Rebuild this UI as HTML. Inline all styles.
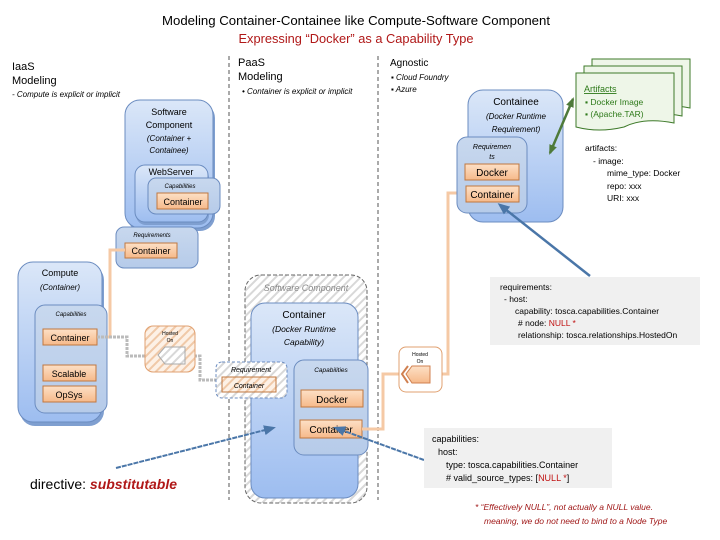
<!DOCTYPE html>
<html><head><meta charset="utf-8"><style>
html,body{margin:0;padding:0;background:#fff}
svg{display:block}
text{font-family:"Liberation Sans",sans-serif}
</style></head><body>
<svg width="720" height="540" viewBox="0 0 720 540" xmlns="http://www.w3.org/2000/svg">
<defs>
<linearGradient id="bg" x1="0" y1="0" x2="0" y2="1"><stop offset="0" stop-color="#dbe7f8"/><stop offset="1" stop-color="#9dbdf0"/></linearGradient>
<linearGradient id="bg2" x1="0" y1="0" x2="0" y2="1"><stop offset="0" stop-color="#c8d8ee"/><stop offset="1" stop-color="#b6cbe9"/></linearGradient>
<linearGradient id="og" x1="0" y1="0" x2="0" y2="1"><stop offset="0" stop-color="#fde0c6"/><stop offset="1" stop-color="#f6b98a"/></linearGradient>
<pattern id="hatch" width="6" height="6" patternUnits="userSpaceOnUse" patternTransform="rotate(45)"><rect width="6" height="6" fill="#fff"/><rect width="2" height="6" fill="#d8d8d8"/></pattern>
<pattern id="hatcho" width="6" height="6" patternUnits="userSpaceOnUse" patternTransform="rotate(45)"><rect width="6" height="6" fill="#fdf1e6"/><rect width="2" height="6" fill="#f0c9a8"/></pattern>
<marker id="ab" markerUnits="userSpaceOnUse" markerWidth="12" markerHeight="12" refX="9" refY="6" orient="auto"><path d="M0,1 L12,6 L0,11 z" fill="#4a76a8"/></marker>
<marker id="ag" markerUnits="userSpaceOnUse" markerWidth="10" markerHeight="10" refX="8" refY="5" orient="auto-start-reverse"><path d="M0,1 L10,5 L0,9 z" fill="#4e7a3a"/></marker>
</defs>

<!-- titles -->
<text x="356" y="25" font-size="13" text-anchor="middle" textLength="388" lengthAdjust="spacingAndGlyphs">Modeling Container-Containee like Compute-Software Component</text>
<text x="356" y="43" font-size="13" fill="#b01818" text-anchor="middle" textLength="235" lengthAdjust="spacingAndGlyphs">Expressing “Docker” as a Capability Type</text>

<!-- dashed dividers -->
<line x1="229" y1="56" x2="229" y2="500" stroke="#555" stroke-dasharray="4,3"/>
<line x1="378" y1="56" x2="378" y2="500" stroke="#555" stroke-dasharray="4,3"/>

<text x="12" y="70" font-size="11">IaaS</text>
<text x="12" y="84" font-size="11">Modeling</text>
<text x="12" y="97" font-size="8" font-style="italic">-    Compute is explicit or implicit</text>
<text x="238" y="66" font-size="11">PaaS</text>
<text x="238" y="80" font-size="11">Modeling</text>
<text x="242" y="94" font-size="8" font-style="italic">•   Container is explicit or implicit</text>
<text x="390" y="66" font-size="10">Agnostic</text>
<text x="391" y="80" font-size="8" font-style="italic">▪   Cloud Foundry</text>
<text x="391" y="92" font-size="8" font-style="italic">▪   Azure</text>

<!-- Software Component left -->
<rect x="127" y="103" width="88" height="128" rx="15" fill="#7f9fd0"/>
<rect x="125" y="100" width="88" height="128" rx="15" fill="url(#bg)" stroke="#6b8cc0"/>
<text x="169" y="115" font-size="9" text-anchor="middle">Software</text>
<text x="169" y="128" font-size="9" text-anchor="middle">Component</text>
<text x="169" y="141" font-size="8" font-style="italic" text-anchor="middle">(Container +</text>
<text x="169" y="153" font-size="8" font-style="italic" text-anchor="middle">Containee)</text>
<rect x="136" y="168" width="73" height="57" rx="10" fill="#7f9fd0"/>
<rect x="135" y="165" width="73" height="57" rx="10" fill="url(#bg)" stroke="#6b8cc0"/>
<text x="171" y="175" font-size="9" text-anchor="middle">WebServer</text>
<rect x="148" y="178" width="72" height="36" rx="8" fill="url(#bg2)" stroke="#6b8cc0"/>
<text x="180" y="188" font-size="6" font-style="italic" text-anchor="middle">Capabilities</text>
<rect x="157" y="193" width="51" height="16" fill="url(#og)" stroke="#c07840"/>
<text x="183" y="205" font-size="9" text-anchor="middle">Container</text>
<rect x="116" y="227" width="82" height="41" rx="8" fill="url(#bg2)" stroke="#6b8cc0"/>
<text x="152" y="237" font-size="6" font-style="italic" text-anchor="middle">Requirements</text>
<rect x="125" y="243" width="52" height="15" fill="url(#og)" stroke="#c07840"/>
<text x="151" y="254" font-size="9" text-anchor="middle">Container</text>

<!-- peach left line -->
<polyline points="125,250 110,250 110,337 97,337" fill="none" stroke="#f5c9a5" stroke-width="3"/>

<!-- Compute -->
<rect x="20" y="265" width="84" height="161" rx="15" fill="#7f9fd0"/>
<rect x="18" y="262" width="84" height="160" rx="15" fill="url(#bg)" stroke="#6b8cc0"/>
<text x="60" y="276" font-size="9" text-anchor="middle">Compute</text>
<text x="60" y="290" font-size="8" font-style="italic" text-anchor="middle">(Container)</text>
<rect x="35" y="305" width="72" height="108" rx="10" fill="url(#bg2)" stroke="#6b8cc0"/>
<text x="71" y="316" font-size="6" font-style="italic" text-anchor="middle">Capabilities</text>
<rect x="43" y="329" width="54" height="16" fill="url(#og)" stroke="#c07840"/>
<text x="70" y="341" font-size="9" text-anchor="middle">Container</text>
<rect x="43" y="365" width="53" height="16" fill="url(#og)" stroke="#c07840"/>
<text x="69" y="377" font-size="9" text-anchor="middle">Scalable</text>
<rect x="43" y="386" width="53" height="16" fill="url(#og)" stroke="#c07840"/>
<text x="69" y="398" font-size="9" text-anchor="middle">OpSys</text>

<!-- gray dotted connector -->
<polyline points="97,337 127,337 127,356 150,356" fill="none" stroke="#bbb" stroke-width="3" stroke-dasharray="3,1"/>
<polyline points="190,356 200,356 200,380 216,380" fill="none" stroke="#bbb" stroke-width="3" stroke-dasharray="3,1"/>
<rect x="145" y="326" width="50" height="46" rx="8" fill="url(#hatcho)" stroke="#e0a070"/>
<text x="170" y="335" font-size="5" text-anchor="middle">Hosted</text>
<text x="170" y="342" font-size="5" text-anchor="middle">On</text>
<path d="M165,347 L185,347 L185,364 L165,364 L158,355 z" fill="url(#hatch)" stroke="#aaa"/>

<!-- Software component hatched -->
<rect x="245" y="275" width="122" height="228" rx="16" fill="url(#hatch)" stroke="#666" stroke-dasharray="4,2"/>
<text x="306" y="291" font-size="9" font-style="italic" fill="#888" text-anchor="middle">Software Component</text>
<rect x="251" y="303" width="107" height="195" rx="14" fill="url(#bg)" stroke="#6b8cc0"/>
<text x="304" y="318" font-size="10" text-anchor="middle">Container</text>
<text x="304" y="332" font-size="8.5" font-style="italic" text-anchor="middle">(Docker Runtime</text>
<text x="304" y="345" font-size="8.5" font-style="italic" text-anchor="middle">Capability)</text>
<rect x="216" y="362" width="71" height="36" rx="6" fill="url(#hatch)" stroke="#6b8cc0" stroke-dasharray="3,2"/>
<text x="251" y="372" font-size="7" font-style="italic" text-anchor="middle">Requirement</text>
<rect x="222" y="377" width="54" height="15" fill="url(#hatcho)" stroke="#c07840"/>
<text x="249" y="388" font-size="7" font-style="italic" text-anchor="middle">Container</text>
<rect x="294" y="360" width="74" height="95" rx="10" fill="url(#bg2)" stroke="#6b8cc0"/>
<text x="331" y="372" font-size="6.5" font-style="italic" text-anchor="middle">Capabilities</text>
<rect x="301" y="390" width="62" height="17" fill="url(#og)" stroke="#c07840"/>
<text x="332" y="403" font-size="10" text-anchor="middle">Docker</text>
<rect x="300" y="420" width="62" height="18" fill="url(#og)" stroke="#c07840"/>
<text x="331" y="433" font-size="10" text-anchor="middle">Container</text>

<!-- peach right connector -->
<polyline points="362,429 383,429 383,374 404,374" fill="none" stroke="#f5c9a5" stroke-width="3"/>
<polyline points="430,374 448,374 448,193 466,193" fill="none" stroke="#f5c9a5" stroke-width="3"/>
<rect x="399" y="347" width="43" height="45" rx="7" fill="#fff" stroke="#e0a070"/>
<text x="420" y="356" font-size="5" text-anchor="middle">Hosted</text>
<text x="420" y="363" font-size="5" text-anchor="middle">On</text>
<path d="M412,366 L430,366 L430,383 L412,383 L406,374 z" fill="url(#og)" stroke="#d08050"/>
<path d="M408,366 L402,374 L408,383" fill="none" stroke="#d08050" stroke-width="2"/>

<!-- Containee -->
<rect x="468" y="90" width="95" height="132" rx="15" fill="url(#bg)" stroke="#6b8cc0"/>
<text x="516" y="105" font-size="10" text-anchor="middle">Containee</text>
<text x="516" y="119" font-size="8" font-style="italic" text-anchor="middle">(Docker Runtime</text>
<text x="516" y="132" font-size="8" font-style="italic" text-anchor="middle">Requirement)</text>
<rect x="457" y="137" width="70" height="76" rx="10" fill="url(#bg2)" stroke="#6b8cc0"/>
<text x="492" y="149" font-size="7" font-style="italic" text-anchor="middle">Requiremen</text>
<text x="492" y="159" font-size="7" font-style="italic" text-anchor="middle">ts</text>
<rect x="465" y="164" width="54" height="16" fill="url(#og)" stroke="#c07840"/>
<text x="492" y="176" font-size="10" text-anchor="middle">Docker</text>
<rect x="466" y="186" width="53" height="16" fill="url(#og)" stroke="#c07840"/>
<text x="492" y="198" font-size="10" text-anchor="middle">Container</text>

<!-- artifacts pages -->
<path d="M592,59 L690,59 L690,108 Q660,102 640,112 Q615,118 592,112 z" fill="#eef6e8" stroke="#3e7a2a"/>
<path d="M584,66 L682,66 L682,116 Q652,110 632,120 Q607,126 584,120 z" fill="#eef6e8" stroke="#3e7a2a"/>
<path d="M576,73 L674,73 L674,123 Q644,117 624,127 Q599,133 576,127 z" fill="#eef6e8" stroke="#3e7a2a"/>
<text x="584" y="92" font-size="9" fill="#2e7a1a" text-decoration="underline">Artifacts</text>
<text x="585" y="105" font-size="8.5" fill="#2e7a1a">▪   Docker Image</text>
<text x="585" y="117" font-size="8.5" fill="#2e7a1a">▪   (Apache.TAR)</text>
<line x1="573" y1="99" x2="550" y2="153" stroke="#4e7a3a" stroke-width="2.5" marker-start="url(#ag)" marker-end="url(#ag)"/>

<g font-size="8.5">
<text x="585" y="151">artifacts:</text>
<text x="593" y="164">- image:</text>
<text x="607" y="176">mime_type: Docker</text>
<text x="607" y="189">repo: xxx</text>
<text x="607" y="201">URI: xxx</text>
</g>

<!-- blue arrows -->
<line x1="590" y1="276" x2="500" y2="205" stroke="#4a76a8" stroke-width="2.5" marker-end="url(#ab)"/>
<line x1="116" y1="468" x2="273" y2="428" stroke="#4a76a8" stroke-width="2" stroke-dasharray="5,1" marker-end="url(#ab)"/>
<line x1="424" y1="460" x2="336" y2="428" stroke="#4a76a8" stroke-width="2" stroke-dasharray="5,1" marker-end="url(#ab)"/>

<!-- yaml boxes -->
<rect x="490" y="277" width="210" height="68" fill="#f0f0f0"/>
<g font-size="8.5">
<text x="500" y="290">requirements:</text>
<text x="504" y="302">- host:</text>
<text x="515" y="314">capability: tosca.capabilities.Container</text>
<text x="518" y="326"># node: <tspan fill="#c01010">NULL *</tspan></text>
<text x="518" y="338">relationship: tosca.relationships.HostedOn</text>
</g>
<rect x="424" y="428" width="188" height="60" fill="#f0f0f0"/>
<g font-size="9">
<text x="432" y="442">capabilities:</text>
<text x="438" y="455">host:</text>
<text x="446" y="468">type: tosca.capabilities.Container</text>
<text x="446" y="481"># valid_source_types: [<tspan fill="#c01010">NULL *</tspan>]</text>
</g>
<text x="475" y="510" font-size="8.5" font-style="italic" fill="#a01818">* “Effectively NULL”, not actually a NULL value.</text>
<text x="484" y="524" font-size="8.5" font-style="italic" fill="#a01818">meaning, we do not need to bind to a Node Type</text>

<text x="30" y="489" font-size="14">directive: <tspan fill="#b01818" font-weight="bold" font-style="italic">substitutable</tspan></text>
</svg>
</body></html>
